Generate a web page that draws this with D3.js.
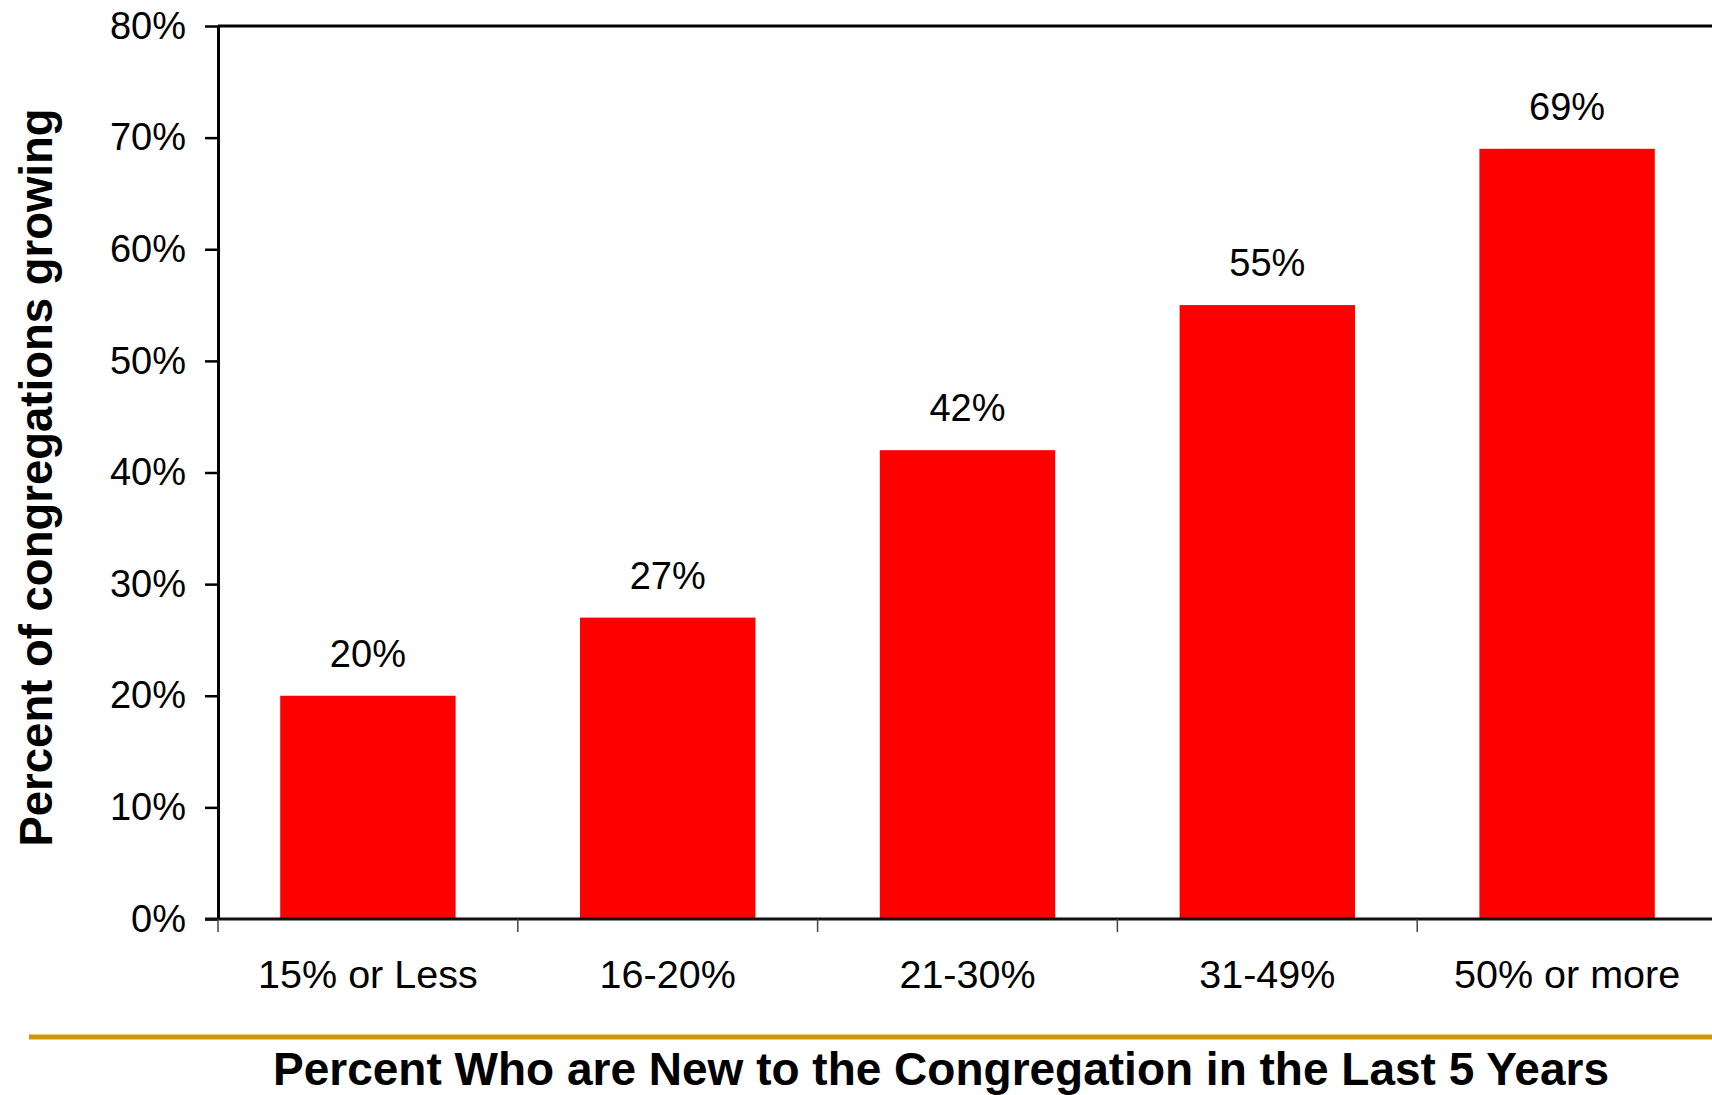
<!DOCTYPE html>
<html>
<head>
<meta charset="utf-8">
<script src="https://cdn.jsdelivr.net/npm/d3@7"></script>
<style>
  html, body { margin: 0; padding: 0; background: #fff; overflow: hidden; }
  svg { display: block; }
  text { font-family: "Liberation Sans", Arial, sans-serif; fill: #000; }
</style>
</head>
<body>
<svg id="chart" width="1712" height="1095"></svg>
<script>
const categories = ["15% or Less", "16-20%", "21-30%", "31-49%", "50% or more"];
const values = [0.20, 0.27, 0.42, 0.55, 0.69];
const yTicks = [0, 0.1, 0.2, 0.3, 0.4, 0.5, 0.6, 0.7, 0.8];
const yTitle = "Percent of congregations growing";
const xTitle = "Percent Who are New to the Congregation in the Last 5 Years";

const svg = d3.select("#chart");
const plot = { left: 218, right: 1717, top: 26, bottom: 919 };

const x = d3.scaleBand()
  .domain(categories)
  .range([plot.left, plot.right])
  .paddingInner(0.415)
  .paddingOuter(0.2075)
  .align(0.5);

const y = d3.scaleLinear().domain([0, 0.8]).range([plot.bottom, plot.top]);
const fmt = d3.format(".0%");

// Bars
svg.append("g").selectAll("rect")
  .data(values)
  .join("rect")
  .attr("x", (d, i) => x(categories[i]))
  .attr("width", x.bandwidth())
  .attr("y", d => y(d))
  .attr("height", d => y(0) - y(d))
  .attr("fill", "#ff0000");

// Value labels
svg.append("g").selectAll("text")
  .data(values)
  .join("text")
  .attr("x", (d, i) => x(categories[i]) + x.bandwidth() / 2)
  .attr("y", d => y(d) - 29)
  .attr("text-anchor", "middle")
  .attr("font-size", 38)
  .text(d => fmt(d));

// Y axis
const yAxis = d3.axisLeft(y)
  .tickValues(yTicks)
  .tickFormat(fmt)
  .tickSize(13)
  .tickSizeOuter(0)
  .tickPadding(19);
const gy = svg.append("g").attr("transform", `translate(${plot.left},0)`).call(yAxis);
gy.select(".domain").attr("stroke", "#000").attr("stroke-width", 3);
gy.selectAll(".tick line").attr("stroke", "#000").attr("stroke-width", 2.5);
gy.selectAll(".tick text")
  .attr("font-size", 38)
  .attr("font-family", "\"Liberation Sans\", Arial, sans-serif")
  .attr("fill", "#000");

// Top frame line
svg.append("line")
  .attr("x1", plot.left).attr("x2", plot.right)
  .attr("y1", y(0.8)).attr("y2", y(0.8))
  .attr("stroke", "#000").attr("stroke-width", 3);

// X axis line
svg.append("line")
  .attr("x1", plot.left - 13).attr("x2", plot.right)
  .attr("y1", y(0)).attr("y2", y(0))
  .attr("stroke", "#111").attr("stroke-width", 3);

// X boundary ticks
const gap = (x.step() - x.bandwidth()) / 2;
const bounds = categories.map(c => x(c) - gap).concat([x(categories[categories.length - 1]) + x.bandwidth() + gap]);
svg.append("g").selectAll("line")
  .data(bounds)
  .join("line")
  .attr("x1", d => d).attr("x2", d => d)
  .attr("y1", y(0)).attr("y2", y(0) + 13)
  .attr("stroke", "#444").attr("stroke-width", 1.5);

// Category labels
const xAxis = d3.axisBottom(x).tickSize(0).tickPadding(0);
const gx = svg.append("g").attr("transform", `translate(0,${y(0)})`).call(xAxis);
gx.select(".domain").remove();
gx.selectAll(".tick text")
  .attr("y", 69)
  .attr("dy", 0)
  .attr("font-size", 39.5)
  .attr("font-family", "\"Liberation Sans\", Arial, sans-serif")
  .attr("fill", "#000");

// Gold separator
svg.append("line")
  .attr("x1", 29).attr("x2", 1712)
  .attr("y1", 1037).attr("y2", 1037)
  .attr("stroke", "#cc9900").attr("stroke-width", 5);

// X title
svg.append("text")
  .attr("x", 941).attr("y", 1085)
  .attr("text-anchor", "middle")
  .attr("font-size", 46)
  .attr("font-weight", "bold")
  .text(xTitle);

// Y title
svg.append("text")
  .attr("transform", `translate(52,${(plot.top + plot.bottom) / 2 + 5}) rotate(-90)`)
  .attr("text-anchor", "middle")
  .attr("font-size", 45.5)
  .attr("font-weight", "bold")
  .text(yTitle);
</script>
</body>
</html>
